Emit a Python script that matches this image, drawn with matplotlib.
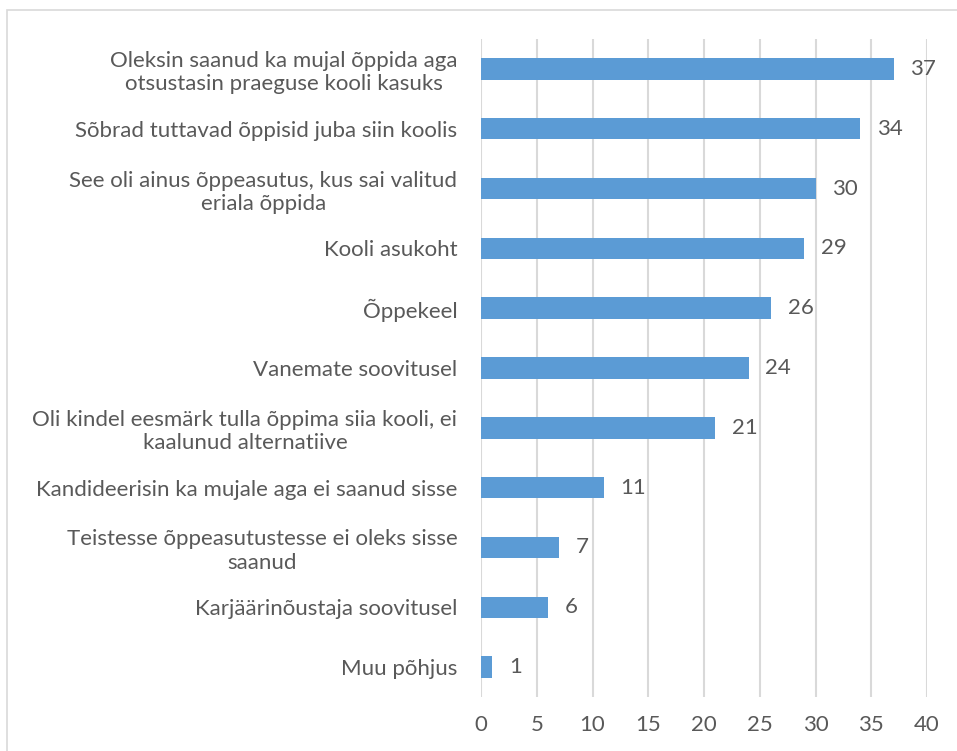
import matplotlib.pyplot as plt
from matplotlib.patches import Rectangle

categories = [
    "Oleksin saanud ka mujal õppida aga\notsustasin praeguse kooli kasuks",
    "Sõbrad tuttavad õppisid juba siin koolis",
    "See oli ainus õppeasutus, kus sai valitud\neriala õppida",
    "Kooli asukoht",
    "Õppekeel",
    "Vanemate soovitusel",
    "Oli kindel eesmärk tulla õppima siia kooli, ei\nkaalunud alternatiive",
    "Kandideerisin ka mujale aga ei saanud sisse",
    "Teistesse õppeasutustesse ei oleks sisse\nsaanud",
    "Karjäärinõustaja soovitusel",
    "Muu põhjus",
]
values = [37, 34, 30, 29, 26, 24, 21, 11, 7, 6, 1]
x_ticks = [0, 5, 10, 15, 20, 25, 30, 35, 40]

TEXT = "#595959"
BAR = "#5b9bd5"
GRID = "#d9d9d9"
plt.rcParams["font.family"] = ["Lato", "DejaVu Sans"]
FS = 16

fig = plt.figure(figsize=(9.57, 7.51), dpi=100)
fig.patches.append(Rectangle((7 / 957, -0.1), 1.1, 1 - 10 / 751 + 0.1,
                             transform=fig.transFigure, fill=False,
                             edgecolor=GRID, linewidth=1.2))
ax = fig.add_axes([481 / 957, 54 / 751, (927 - 481) / 957, (712 - 54) / 751])

ypos = list(range(len(values)))[::-1]
ax.barh(ypos, values, height=0.36, color=BAR, zorder=3)
for y, v in zip(ypos, values):
    ax.text(v + 1.5, y, str(v), va="center", ha="left", fontsize=FS, color=TEXT)

ax.set_xlim(0, 40)
ax.set_ylim(-0.5, len(values) - 0.5)
ax.set_xticks(x_ticks)
ax.set_xticklabels([str(t) for t in x_ticks], fontsize=FS, color=TEXT)
ax.set_yticks(ypos)
ax.set_yticklabels(categories, fontsize=FS, color=TEXT,
                   multialignment="center", linespacing=1.2)
ax.tick_params(axis="both", length=0)
ax.tick_params(axis="y", pad=17)
ax.tick_params(axis="x", pad=13)
ax.grid(axis="x", color=GRID, linewidth=1.5, zorder=0)
for s in ax.spines.values():
    s.set_visible(False)

fig.savefig("out.png", dpi=100)
